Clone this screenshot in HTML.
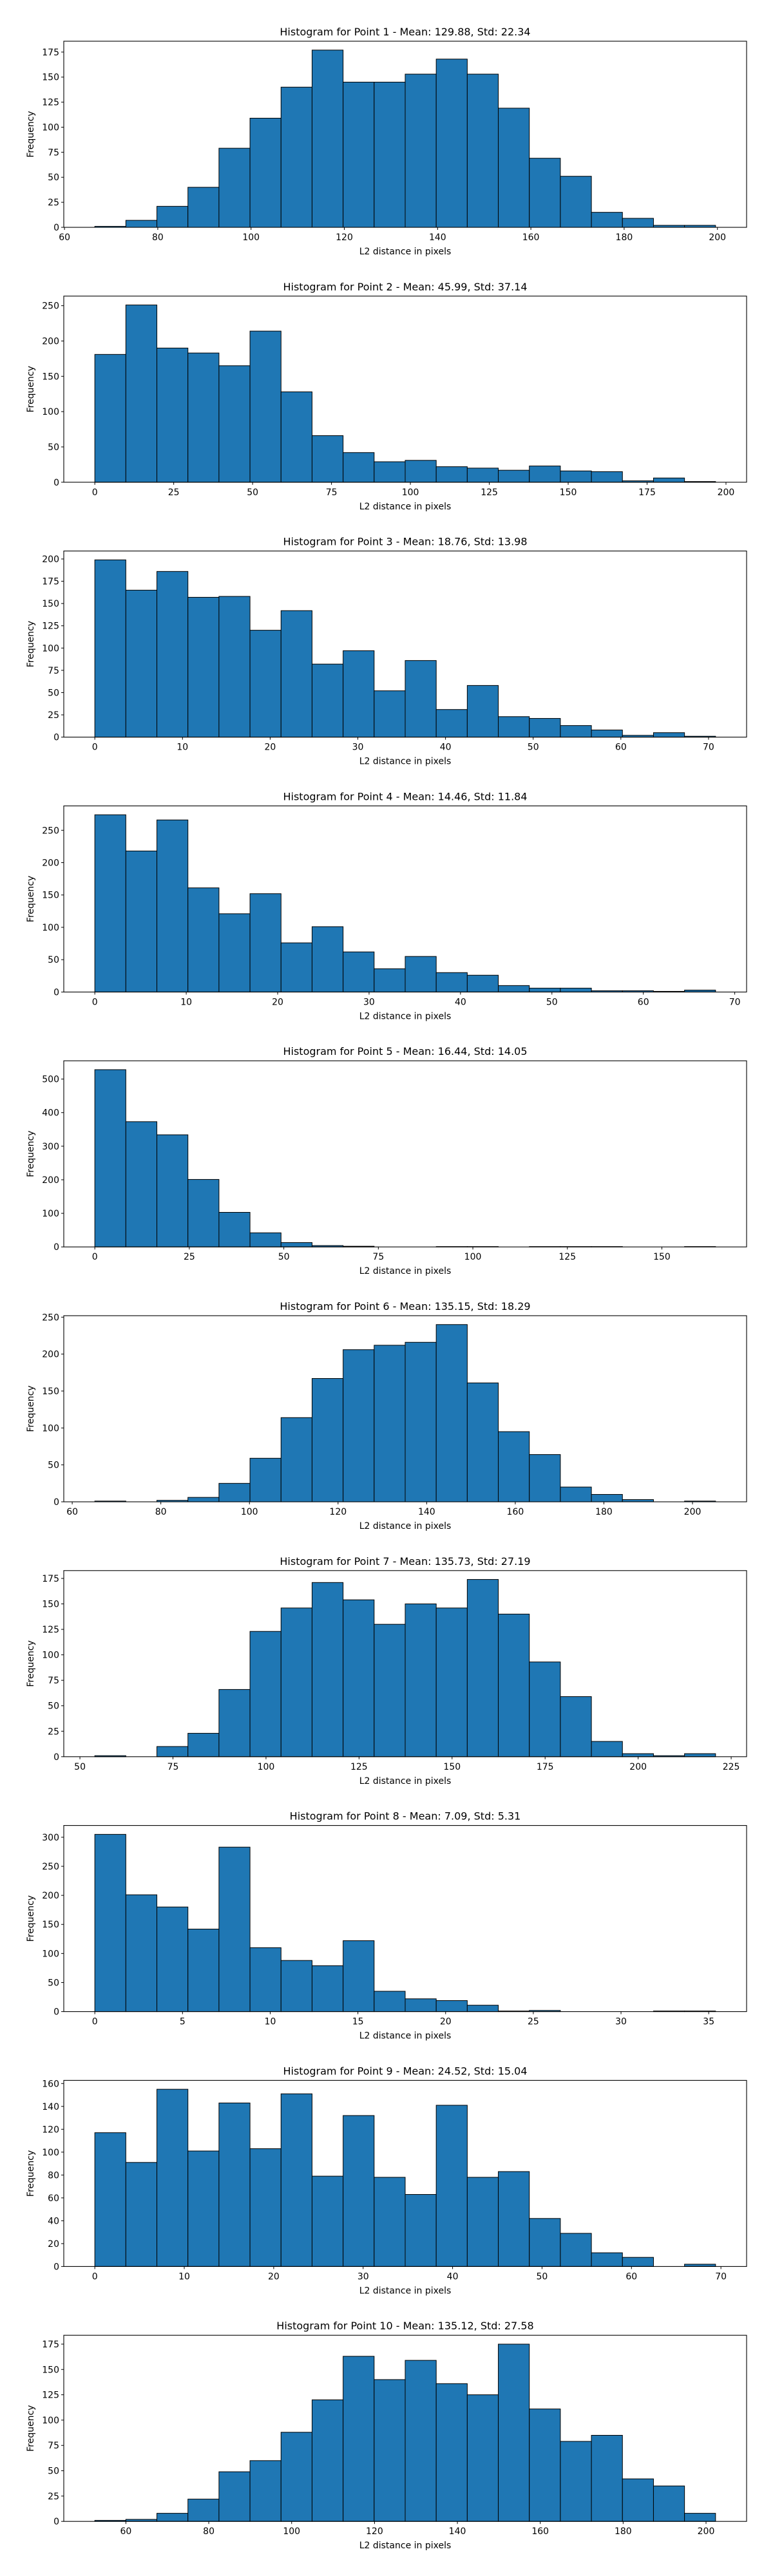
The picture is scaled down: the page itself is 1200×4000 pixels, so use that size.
<!DOCTYPE html>
<html><head><meta charset="utf-8">
<style>
html,body{margin:0;padding:0;background:#fff;}
svg{display:block;font-family:"DejaVu Sans","Liberation Sans",sans-serif;}
</style></head>
<body>
<svg id="chart" width="1200" height="4000" viewBox="0 0 1200 4000" xmlns="http://www.w3.org/2000/svg"></svg>
<script>
const titles = [
 "Histogram for Point 1 - Mean: 129.88, Std: 22.34",
 "Histogram for Point 2 - Mean: 45.99, Std: 37.14",
 "Histogram for Point 3 - Mean: 18.76, Std: 13.98",
 "Histogram for Point 4 - Mean: 14.46, Std: 11.84",
 "Histogram for Point 5 - Mean: 16.44, Std: 14.05",
 "Histogram for Point 6 - Mean: 135.15, Std: 18.29",
 "Histogram for Point 7 - Mean: 135.73, Std: 27.19",
 "Histogram for Point 8 - Mean: 7.09, Std: 5.31",
 "Histogram for Point 9 - Mean: 24.52, Std: 15.04",
 "Histogram for Point 10 - Mean: 135.12, Std: 27.58"
];
const binMin = [66.5, 0, 0, 0, 0, 65.1, 54.0, 0, 0, 52.5];
const binMax = [199.6, 196.7, 70.8, 67.9, 164.2, 205.2, 220.8, 35.39, 69.4, 202.3];
const counts1 = [1,7,21,40,79,109,140,177,145,145,153,168,153,119,69,51,15,9,2,2];
const counts2 = [181,251,190,183,165,214,128,66,42,29,31,22,20,17,23,16,15,2,6,1];
const counts3 = [199,165,186,157,158,120,142,82,97,52,86,31,58,23,21,13,8,2,5,1];
const counts4 = [274,218,266,161,121,152,76,101,62,36,55,30,26,10,6,6,2,2,1,3];
const counts5 = [528,373,334,201,103,42,13,4,2,0,0,1,1,0,1,1,1,0,0,1];
const counts6 = [1,0,2,6,25,59,114,167,206,212,216,240,161,95,64,20,10,3,0,1];
const counts7 = [1,0,10,23,66,123,146,171,154,130,150,146,174,140,93,59,15,3,1,3];
const counts8 = [305,201,180,142,283,110,88,79,122,35,22,19,11,1,2,0,0,0,1,1];
const counts9 = [117,91,155,101,143,103,151,79,132,78,63,141,78,83,42,29,12,8,0,2];
const counts10 = [1,2,8,22,49,60,88,120,163,140,159,136,125,175,111,79,85,42,35,8];
const allCounts = [counts1,counts2,counts3,counts4,counts5,counts6,counts7,counts8,counts9,counts10];
const xTicks = [
 [60,80,100,120,140,160,180,200],
 [0,25,50,75,100,125,150,175,200],
 [0,10,20,30,40,50,60,70],
 [0,10,20,30,40,50,60,70],
 [0,25,50,75,100,125,150],
 [60,80,100,120,140,160,180,200],
 [50,75,100,125,150,175,200,225],
 [0,5,10,15,20,25,30,35],
 [0,10,20,30,40,50,60,70],
 [60,80,100,120,140,160,180,200]
];
const yTicks = [
 [0,25,50,75,100,125,150,175],
 [0,50,100,150,200,250],
 [0,25,50,75,100,125,150,175,200],
 [0,50,100,150,200,250],
 [0,100,200,300,400,500],
 [0,50,100,150,200,250],
 [0,25,50,75,100,125,150,175],
 [0,50,100,150,200,250,300],
 [0,20,40,60,80,100,120,140,160],
 [0,25,50,75,100,125,150,175]
];

const NS = "http://www.w3.org/2000/svg";
const svg = document.getElementById('chart');
function mk(tag, attrs, parent){
  const e = document.createElementNS(NS, tag);
  for (const k in attrs) e.setAttribute(k, attrs[k]);
  parent.appendChild(e);
  return e;
}
const AX_L = 99, AX_R = 1159, AX_H = 289, TOP0 = 64, PERIOD = 395.8;

for (let c = 0; c < 10; c++) {
  const counts = allCounts[c];
  const n = counts.length;
  const lo = binMin[c], hi = binMax[c];
  const span = hi - lo;
  const xMin = lo - 0.05*span, xMax = hi + 0.05*span;
  const yMax = Math.max(...counts) * 1.05;
  const top = TOP0 + PERIOD*c, bottom = top + AX_H;
  const xs = v => AX_L + (v - xMin)/(xMax - xMin)*(AX_R - AX_L);
  const ys = v => bottom - v/yMax*AX_H;

  const g = mk('g', {}, svg);
  
  

  const t = mk('text', {x:(AX_L+AX_R)/2, y:top-9, 'text-anchor':'middle', 'font-size':'16', fill:'#000'}, g);
  
  
  t.textContent = titles[c];

  const bw = span / n;
  for (let i = 0; i < n; i++) {
    const x0 = xs(lo + i*bw), x1 = xs(lo + (i+1)*bw);
    const y0 = ys(counts[i]);
    const r = mk('rect', {x:x0, y:y0, width:x1-x0, height:bottom-y0, fill:'#1f77b4', stroke:'#000', 'stroke-width':'1'}, g);
    
    
  }

  const frame = mk('rect', {x:AX_L, y:top, width:AX_R-AX_L, height:AX_H, fill:'none', stroke:'#000', 'stroke-width':'1.1'}, g);
  
  

  xTicks[c].forEach(v => {
    const x = xs(v);
    mk('line', {x1:x, x2:x, y1:bottom, y2:bottom+4, stroke:'#000', 'stroke-width':'1'}, g);
    const tl = mk('text', {x:x, y:bottom+20, 'text-anchor':'middle', 'font-size':'14', fill:'#000'}, g);
    
    
    tl.textContent = v;
  });
  yTicks[c].forEach(v => {
    const y = ys(v);
    mk('line', {x1:AX_L-4, x2:AX_L, y1:y, y2:y, stroke:'#000', 'stroke-width':'1'}, g);
    const tl = mk('text', {x:AX_L-7, y:y+5, 'text-anchor':'end', 'font-size':'14', fill:'#000'}, g);
    
    
    tl.textContent = v;
  });

  const xl = mk('text', {x:(AX_L+AX_R)/2, y:bottom+42, 'text-anchor':'middle', 'font-size':'14', fill:'#000'}, g);
  
  
  xl.textContent = 'L2 distance in pixels';

  const yc = (top+bottom)/2;
  const yl = mk('text', {x:52, y:yc, 'text-anchor':'middle', 'font-size':'14', fill:'#000', transform:'rotate(-90 52 '+yc+')'}, g);
  
  
  yl.textContent = 'Frequency';
}
</script>
</body></html>
